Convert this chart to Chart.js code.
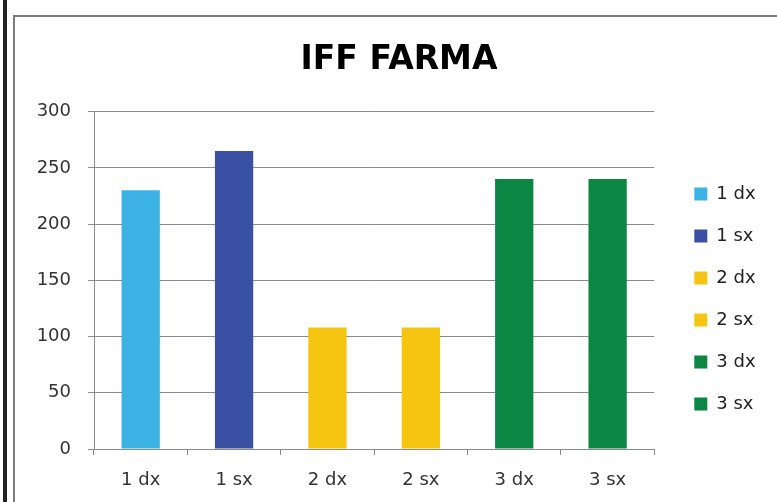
<!DOCTYPE html>
<html>
<head>
<meta charset="utf-8">
<script src="https://cdn.jsdelivr.net/npm/chart.js@4.4.0/dist/chart.umd.min.js"></script>
<style>
  body { margin: 0; background: #fff; }
  #wrap { position: relative; width: 777px; height: 502px; overflow: hidden; }
  #edge { position: absolute; left: 3px; top: 0; width: 4px; height: 502px; background: #222; }
  #box { position: absolute; left: 13px; top: 15px; width: 762px; height: 500px; border: 2px solid #7d7d7d; }
  #myChart { position: absolute; left: 0; top: 0; }
</style>
</head>
<body>
<div id="wrap">
  <div id="edge"></div>
  <div id="box"></div>
  <canvas id="myChart" width="777" height="502"></canvas>
</div>
<script>
// Datos del gráfico
const categorias = ['1 dx', '1 sx', '2 dx', '2 sx', '3 dx', '3 sx'];
const valores = [230, 265, 108, 108, 240, 240];
const colores = ['#3db3e5', '#3a50a2', '#f6c512', '#f6c512', '#0b8743', '#0b8743'];
const ticksY = [0, 50, 100, 150, 200, 250, 300];

const fuente = 'DejaVu Sans';
const gris = '#8a8a8a';

const canvas = document.getElementById('myChart');
const ctx = canvas.getContext('2d');

const myChart = new Chart(ctx, {
  type: 'bar',
  data: {
    labels: categorias,
    datasets: [{
      label: 'IFF FARMA',
      data: valores,
      backgroundColor: colores,
      borderWidth: 0,
      categoryPercentage: 1,
      barPercentage: 0.41
    }]
  },
  options: {
    responsive: false,
    animation: false,
    layout: { padding: { left: 21, right: 0, top: 15, bottom: 0 } },
    plugins: {
      title: {
        display: true,
        text: 'IFF FARMA',
        color: '#000',
        font: { family: fuente, size: 33, weight: 'bold' },
        padding: { top: 26, bottom: 31 }
      },
      legend: {
        position: 'right',
        // titulo vacio solo para bajar las entradas
        title: { display: true, text: '', font: { size: 10 }, padding: { top: 69, bottom: 0 } },
        labels: {
          color: '#222',
          font: { family: fuente, size: 18 },
          boxWidth: 13,
          boxHeight: 13,
          padding: 24,
          // espacios al final para ensanchar la leyenda
          generateLabels: (chart) => chart.data.labels.map((l, i) => ({
            text: l + '  ',
            fillStyle: colores[i],
            strokeStyle: colores[i],
            fontColor: '#222',
            lineWidth: 0,
            index: i
          }))
        }
      },
      tooltip: { enabled: false }
    },
    scales: {
      x: {
        grid: { offset: true, drawOnChartArea: false, color: gris, tickLength: 6 },
        border: { color: gris },
        ticks: { color: '#333', font: { family: fuente, size: 18 }, padding: 15 },
        afterFit: (s) => { s.height = 53; }
      },
      y: {
        min: 0,
        max: 300,
        afterBuildTicks: (s) => { s.ticks = ticksY.map(v => ({ value: v })); },
        grid: { color: gris, tickLength: 6 },
        border: { color: gris },
        ticks: { color: '#333', font: { family: fuente, size: 18 }, padding: 17 },
        afterFit: (s) => { s.width = 73; }
      },
      y2: {
        position: 'right',
        display: true,
        grid: { display: false },
        border: { display: false },
        ticks: { display: false },
        afterFit: (s) => { s.width = 16; }
      }
    }
  }
});
</script>
</body>
</html>
